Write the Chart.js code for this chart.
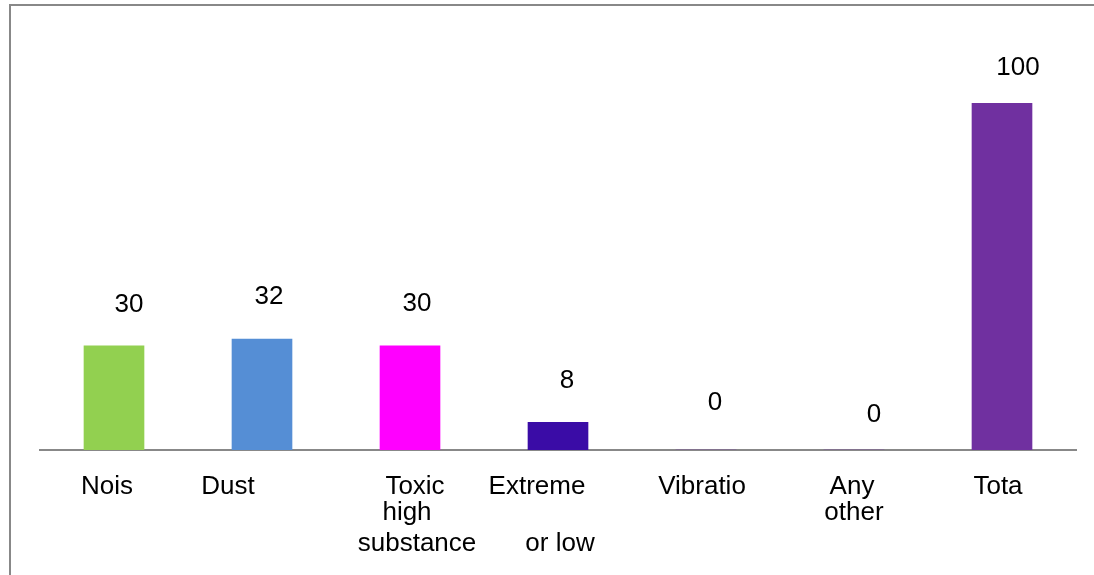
<!DOCTYPE html>
<html>
<head>
<meta charset="utf-8">
<script src="https://cdn.jsdelivr.net/npm/chart.js@4.4.1/dist/chart.umd.min.js"></script>
<style>
  html, body { margin: 0; padding: 0; background: #ffffff; }
  #wrap { position: relative; width: 1094px; height: 575px; overflow: hidden; }
  canvas { display: block; }
</style>
</head>
<body>
<div id="wrap"><canvas id="chart" width="1094" height="575"></canvas></div>
<script>
// Category names (each entry lists the text lines shown under its bar)
const categories = ["Nois", "Dust", "Toxic high substance", "Extreme or low", "Vibratio", "Any other", "Tota"];
const categoryLines = [
  ["Nois"],
  ["Dust"],
  ["Toxic", "high", "substance"],
  ["Extreme", "", "or low"],
  ["Vibratio"],
  ["Any", "other"],
  ["Tota"]
];
// Number of responses per hazard
const values = [30, 32, 30, 8, 0, 0, 100];
const barColors = ["#92D050", "#558ED5", "#FF00FF", "#3A0CA6", "#7030A0", "#7030A0", "#7030A0"];

// Label placement tweaks (pixels)
const valueLabelDx = [15, 7, 7, 9, 9, 20, 16];
const valueLabelDy = [-41, -42, -42, -41, -47, -35, -35];
const lineDx = [[-7], [-34], [5, -3, 7], [-21, 0, 2], [-4], [-2, 0], [-4]];
const lineBaseline = [44, 70, 101];

const FONT = '"Liberation Sans", Arial, sans-serif';

const framePlugin = {
  id: 'frame',
  beforeDraw(chart) {
    const ctx = chart.ctx;
    ctx.save();
    ctx.fillStyle = '#ffffff';
    ctx.fillRect(0, 0, chart.width, chart.height);
    ctx.fillStyle = '#888888';
    ctx.fillRect(9, 4, chart.width - 9, 2);
    ctx.fillRect(9, 4, 2, chart.height - 4);
    ctx.restore();
  }
};

const labelPlugin = {
  id: 'labels',
  afterDatasetsDraw(chart) {
    const ctx = chart.ctx;
    const meta = chart.getDatasetMeta(0);
    const xScale = chart.scales.x;
    const axisY = chart.chartArea.bottom;
    ctx.save();
    ctx.fillStyle = '#000000';
    ctx.font = '26px ' + FONT;
    ctx.textAlign = 'center';
    // value labels above each bar
    ctx.textBaseline = 'middle';
    meta.data.forEach((bar, i) => {
      ctx.fillText(String(values[i]), bar.x + valueLabelDx[i], bar.y + valueLabelDy[i]);
    });
    // category labels under the axis
    ctx.textBaseline = 'alphabetic';
    categoryLines.forEach((lines, i) => {
      const cx = xScale.getPixelForValue(i);
      lines.forEach((line, j) => {
        if (!line) return;
        ctx.fillText(line, cx + lineDx[i][j], axisY + lineBaseline[j]);
      });
    });
    ctx.restore();
  }
};

new Chart(document.getElementById('chart'), {
  type: 'bar',
  data: {
    labels: categories,
    datasets: [{
      data: values,
      backgroundColor: barColors,
      borderWidth: 0,
      barThickness: 60
    }]
  },
  options: {
    responsive: false,
    animation: false,
    events: [],
    layout: { padding: { left: 40, right: 18, top: 103, bottom: 125 } },
    plugins: { legend: { display: false }, tooltip: { enabled: false } },
    scales: {
      x: {
        grid: { display: false, drawTicks: false },
        ticks: { display: false },
        border: { display: true, color: '#888888', width: 2 }
      },
      y: {
        display: false,
        min: 0,
        max: 100
      }
    }
  },
  plugins: [framePlugin, labelPlugin]
});
</script>
</body>
</html>
